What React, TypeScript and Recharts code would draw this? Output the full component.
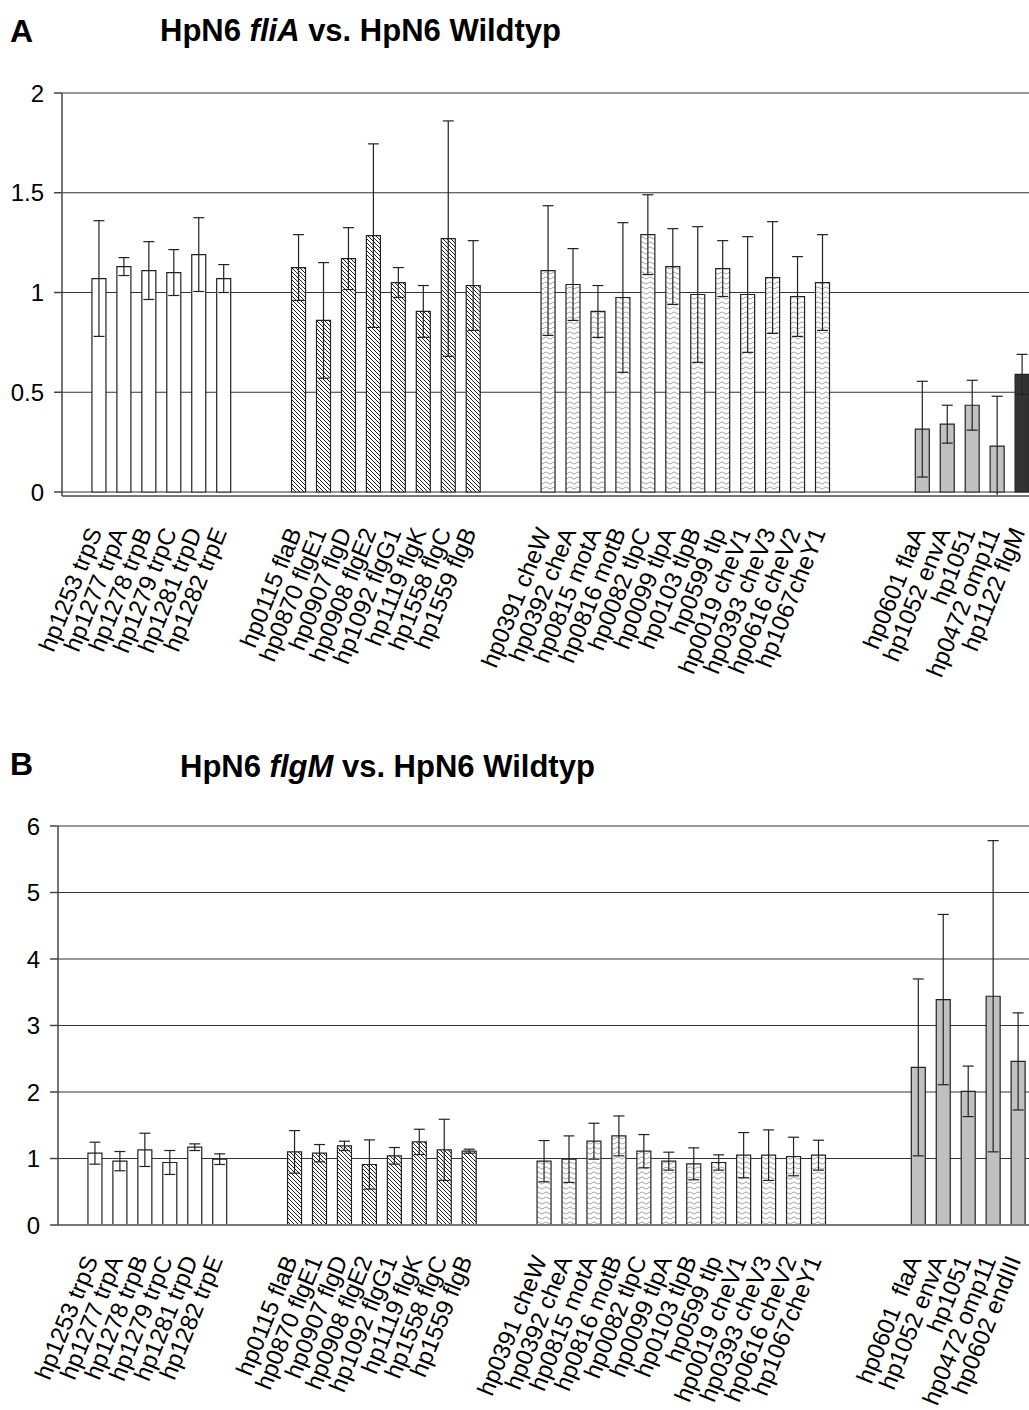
import { BarChart, Bar, Cell, ErrorBar, XAxis, YAxis, CartesianGrid } from 'recharts';

// gene labels per group
const trpGenes = ['hp1253 trpS', 'hp1277 trpA', 'hp1278 trpB', 'hp1279 trpC', 'hp1281 trpD', 'hp1282 trpE'];
const flaGenes = ['hp0115 flaB', 'hp0870 flgE1', 'hp0907 flgD', 'hp0908 flgE2', 'hp1092 flgG1', 'hp1119 flgK', 'hp1558 flgC', 'hp1559 flgB'];
const cheGenes = ['hp0391 cheW', 'hp0392 cheA', 'hp0815 motA', 'hp0816 motB', 'hp0082 tlpC', 'hp0099 tlpA', 'hp0103 tlpB', 'hp0599 tlp', 'hp0019 cheV1', 'hp0393 cheV3', 'hp0616 cheV2', 'hp1067cheY1'];
const otherGenesA = ['hp0601 flaA', 'hp1052 envA', 'hp1051', 'hp0472 omp11', 'hp1122 flgM'];
const otherGenesB = ['hp0601  flaA', 'hp1052 envA', 'hp1051', 'hp0472 omp11', 'hp0602 endIII'];

// A: HpN6 fliA vs. wildtype
const trpA = [1.07, 1.13, 1.11, 1.1, 1.19, 1.07];
const trpErrA = [0.29, 0.045, 0.145, 0.115, 0.185, 0.07];
const flaA = [1.125, 0.86, 1.17, 1.285, 1.05, 0.905, 1.27, 1.035];
const flaErrA = [0.165, 0.29, 0.155, 0.46, 0.075, 0.13, 0.59, 0.225];
const cheA = [1.11, 1.04, 0.905, 0.975, 1.29, 1.13, 0.99, 1.12, 0.99, 1.075, 0.98, 1.05];
const cheErrA = [0.325, 0.18, 0.13, 0.375, 0.2, 0.19, 0.34, 0.14, 0.29, 0.28, 0.2, 0.24];
const otherA = [0.315, 0.34, 0.435, 0.23, 0.59];
const otherErrA = [0.24, 0.095, 0.125, 0.25, 0.1];

// B: HpN6 flgM vs. wildtype
const trpB = [1.08, 0.96, 1.13, 0.94, 1.17, 0.99];
const trpErrB = [0.165, 0.145, 0.25, 0.18, 0.05, 0.08];
const flaB = [1.1, 1.08, 1.19, 0.91, 1.04, 1.25, 1.13, 1.11];
const flaErrB = [0.32, 0.13, 0.07, 0.37, 0.125, 0.19, 0.46, 0.03];
const cheB = [0.96, 0.99, 1.26, 1.34, 1.11, 0.96, 0.92, 0.94, 1.05, 1.05, 1.03, 1.05];
const cheErrB = [0.31, 0.35, 0.27, 0.3, 0.25, 0.135, 0.24, 0.115, 0.34, 0.38, 0.29, 0.225];
const otherB = [2.37, 3.39, 2.01, 3.44, 2.46];
const otherErrB = [1.33, 1.28, 0.38, 2.34, 0.73];

const ticksA = [0, 0.5, 1, 1.5, 2];
const ticksB = [0, 1, 2, 3, 4, 5, 6];

// empty category slots before each group, and after the last one
const gapsBefore = [1, 2, 2, 3];
const gapsAfter = 1;

const highlightGene = 'hp1122 flgM';

const FONT = '"Liberation Sans", Arial, sans-serif';

const fills: Record<string, string> = {
    trp: '#ffffff',
    fla: 'url(#hatch)',
    che: 'url(#wave)',
    other: '#c0c0c0',
    mutant: '#333333',
};

type Row = { name: string; value: number | null; err: number | null; kind: string };
type Group = { genes: string[]; values: number[]; errors: number[]; kind: string };

function buildRows(groups: Group[]): Row[] {
    const rows: Row[] = [];
    let g = 0;
    const gap = () => rows.push({ name: `gap${g++}`, value: null, err: null, kind: 'gap' });
    groups.forEach((grp, i) => {
        for (let k = 0; k < gapsBefore[i]; k++) gap();
        grp.genes.forEach((name, j) =>
            rows.push({
                name,
                value: grp.values[j],
                err: grp.errors[j],
                kind: name === highlightGene ? 'mutant' : grp.kind,
            })
        );
    });
    for (let k = 0; k < gapsAfter; k++) gap();
    return rows;
}

const rowsA = buildRows([
    { genes: trpGenes, values: trpA, errors: trpErrA, kind: 'trp' },
    { genes: flaGenes, values: flaA, errors: flaErrA, kind: 'fla' },
    { genes: cheGenes, values: cheA, errors: cheErrA, kind: 'che' },
    { genes: otherGenesA, values: otherA, errors: otherErrA, kind: 'other' },
]);

const rowsB = buildRows([
    { genes: trpGenes, values: trpB, errors: trpErrB, kind: 'trp' },
    { genes: flaGenes, values: flaB, errors: flaErrB, kind: 'fla' },
    { genes: cheGenes, values: cheB, errors: cheErrB, kind: 'che' },
    { genes: otherGenesB, values: otherB, errors: otherErrB, kind: 'other' },
]);

/* eslint-disable @typescript-eslint/no-explicit-any */
function GeneTick({ x, y, payload, drop }: any) {
    if (!payload || String(payload.value).startsWith('gap')) return null;
    return (
        <text
            transform={`translate(${x + 3},${y + drop}) rotate(-68)`}
            textAnchor="end"
            fontSize={24}
            fontFamily={FONT}
            fill="#000"
            style={{ whiteSpace: 'pre' }}
        >
            {payload.value}
        </text>
    );
}

interface GeneChartProps {
    rows: Row[];
    top: number;
    height: number;
    width: number;
    marginTop: number;
    axisWidth: number;
    xAxisHeight: number;
    labelDrop: number;
    domain: [number, number];
    ticks: number[];
}

function GeneChart({ rows, top, height, width, marginTop, axisWidth, xAxisHeight, labelDrop, domain, ticks }: GeneChartProps) {
    return (
        <div style={{ position: 'absolute', left: 0, top }}>
            <BarChart
                width={width}
                height={height}
                data={rows}
                margin={{ top: marginTop, right: 0, bottom: 0, left: 0 }}
            >
                <CartesianGrid vertical={false} stroke="#333" strokeWidth={1.2} />
                <XAxis
                    dataKey="name"
                    interval={0}
                    height={xAxisHeight}
                    tick={<GeneTick drop={labelDrop} />}
                    tickLine={false}
                    tickSize={0}
                    tickMargin={0}
                    axisLine={{ stroke: '#777', strokeWidth: 2 }}
                />
                <YAxis
                    width={axisWidth}
                    domain={domain}
                    ticks={ticks}
                    interval={0}
                    tickSize={8}
                    tickMargin={10}
                    tickLine={{ stroke: '#444', strokeWidth: 1.5 }}
                    axisLine={{ stroke: '#444', strokeWidth: 1.5 }}
                    tick={{ fontSize: 24, fill: '#000', fontFamily: FONT }}
                />
                <Bar dataKey="value" barSize={14} stroke="#222" strokeWidth={1.2} isAnimationActive={false}>
                    {rows.map((r) => (
                        <Cell key={r.name} fill={fills[r.kind] ?? '#fff'} />
                    ))}
                    <ErrorBar dataKey="err" direction="y" width={5.5} stroke="#222" strokeWidth={1.2} />
                </Bar>
            </BarChart>
        </div>
    );
}

export default function App() {
    return (
        <div
            style={{
                position: 'absolute',
                left: 0,
                top: 0,
                width: 1029,
                height: 1410,
                overflow: 'hidden',
                background: '#fff',
                fontFamily: FONT,
            }}
        >
            {/* shared fill patterns */}
            <svg width={0} height={0} style={{ position: 'absolute' }}>
                <defs>
                    <pattern id="hatch" width={4} height={4} patternUnits="userSpaceOnUse">
                        <rect width={4} height={4} fill="#fff" />
                        <path d="M-1,-1 L5,5 M-1,3 L1,5 M3,-1 L5,1" stroke="#222" strokeWidth={1} />
                    </pattern>
                    <pattern id="wave" width={8} height={5} patternUnits="userSpaceOnUse">
                        <rect width={8} height={5} fill="#fff" />
                        <path d="M0,3 Q2,0.8 4,3 T8,3" stroke="#999" strokeWidth={0.9} fill="none" />
                    </pattern>
                </defs>
            </svg>

            {/* panel titles */}
            <svg width={1029} height={1410} style={{ position: 'absolute', left: 0, top: 0, pointerEvents: 'none' }}>
                <text x={10} y={42} fontSize={32} fontWeight="bold" fontFamily={FONT}>A</text>
                <text x={160} y={41} fontSize={31} fontWeight="bold" fontFamily={FONT}>
                    HpN6 <tspan fontStyle="italic">fliA</tspan> vs. HpN6 Wildtyp
                </text>
                <text x={10} y={775} fontSize={32} fontWeight="bold" fontFamily={FONT}>B</text>
                <text x={180} y={777} fontSize={31} fontWeight="bold" fontFamily={FONT}>
                    HpN6 <tspan fontStyle="italic">flgM</tspan> vs. HpN6 Wildtyp
                </text>
            </svg>

            <GeneChart
                rows={rowsA}
                top={0}
                height={720}
                width={1060}
                marginTop={93}
                axisWidth={62}
                xAxisHeight={224}
                labelDrop={36}
                domain={[0, 2]}
                ticks={ticksA}
            />
            <GeneChart
                rows={rowsB}
                top={730}
                height={680}
                width={1056}
                marginTop={96}
                axisWidth={58}
                xAxisHeight={185}
                labelDrop={35}
                domain={[0, 6]}
                ticks={ticksB}
            />
        </div>
    );
}
